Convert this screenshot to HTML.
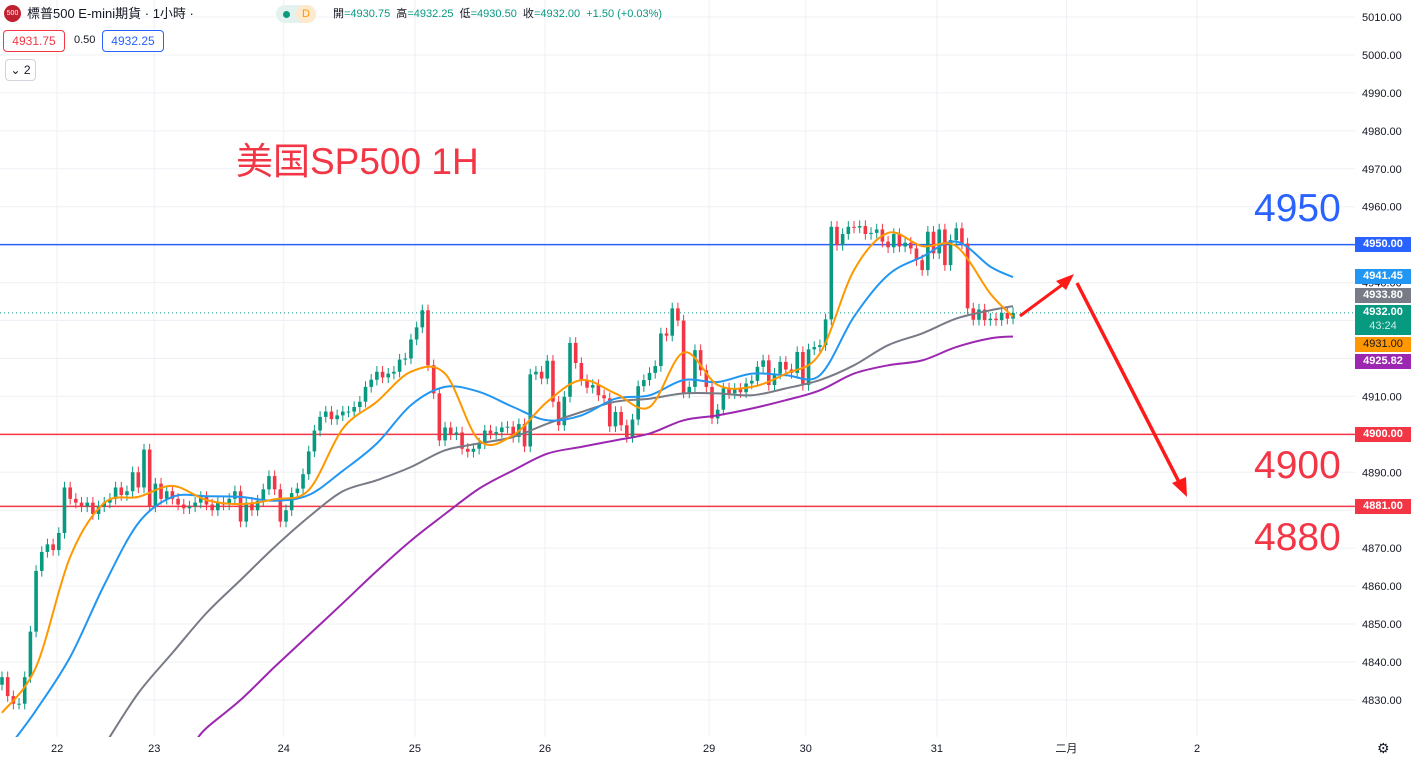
<!DOCTYPE html>
<html><head><meta charset="utf-8">
<style>
html,body{margin:0;padding:0;overflow:hidden;width:1411px;height:761px;}
body{background:#fff;font-family:"Liberation Sans","Noto Sans CJK TC",sans-serif;}
#wrap{position:relative;width:1411px;height:761px;overflow:hidden;}
svg{position:absolute;left:0;top:0;}
.hdr{position:absolute;font-size:13px;color:#131722;white-space:nowrap;line-height:1.2;}
.box{position:absolute;font-size:12px;border:1px solid;border-radius:4px;text-align:center;line-height:20px;background:#fff;}
.badge{position:absolute;left:1355px;width:56px;height:15px;font-size:11px;font-weight:bold;color:#fff;line-height:15px;text-align:center;}
</style></head><body>
<div id="wrap">
<svg id="chart" width="1411" height="761"></svg>

<div class="hdr" style="left:4px;top:5px;width:17px;height:17px;border-radius:50%;background:#c0202f;color:#fff;font-size:7px;line-height:17px;text-align:center;">500</div>
<div class="hdr" style="left:27px;top:6px;">標普500 E-mini期貨 · 1小時 ·</div>
<div class="hdr" style="left:276px;top:5px;width:40px;height:18px;border-radius:9px;background:#e3f2ef;">
 <span style="position:absolute;left:7px;top:6px;width:7px;height:7px;border-radius:50%;background:#089981"></span>
 <span style="position:absolute;left:20px;top:0;width:20px;height:18px;border-radius:9px;background:#ffe9cc;color:#ff9800;font-size:11px;line-height:18px;text-align:center;">D</span>
</div>
<div class="hdr" style="left:333px;top:8px;font-size:11px;">開<span style="color:#089981">=4930.75</span>&nbsp; 高<span style="color:#089981">=4932.25</span>&nbsp; 低<span style="color:#089981">=4930.50</span>&nbsp; 收<span style="color:#089981">=4932.00&nbsp; +1.50 (+0.03%)</span></div>
<div class="box" style="left:3px;top:30px;width:60px;height:20px;border-color:#f23645;color:#f23645;">4931.75</div>
<div class="hdr" style="left:74px;top:34px;font-size:11px;">0.50</div>
<div class="box" style="left:102px;top:30px;width:60px;height:20px;border-color:#2962ff;color:#2962ff;">4932.25</div>
<div class="box" style="left:5px;top:59px;width:29px;height:20px;border-color:#d1d4dc;color:#131722;font-size:12px;">⌄ 2</div>

<div class="hdr" style="left:236px;top:140px;font-size:37px;color:#f23645;">美国SP500 1H</div>
<div class="hdr" style="left:1254px;top:186px;font-size:39px;color:#2962ff;">4950</div>
<div class="hdr" style="left:1254px;top:443px;font-size:39px;color:#f23645;">4900</div>
<div class="hdr" style="left:1254px;top:515px;font-size:39px;color:#f23645;">4880</div>

<div class="badge" style="top:237px;background:#2962ff;">4950.00</div>
<div class="badge" style="top:269px;background:#2196f3;">4941.45</div>
<div class="badge" style="top:288px;background:#787b86;">4933.80</div>
<div class="badge" style="top:305px;height:30px;background:#089981;line-height:14px;">4932.00<br><span style="font-weight:normal;color:#cdeee6">43:24</span></div>
<div class="badge" style="top:337px;background:#ff9800;color:#131722;font-weight:normal;">4931.00</div>
<div class="badge" style="top:354px;background:#9c27b0;">4925.82</div>
<div class="badge" style="top:427px;background:#f23645;">4900.00</div>
<div class="badge" style="top:499px;background:#f23645;">4881.00</div>
<div class="hdr" style="left:1377px;top:740px;font-size:14px;line-height:16px;color:#131722;">⚙</div>
</div>
<script>
const closes=[4836,4831,4829,4829,4836,4848,4864,4869,4871,4869.5,
4874,4886,4883,4882,4881,4882,4879,4881,4882,4883,
4886,4884,4885,4890,4886,4896,4881,4887,4883,4885,
4883,4881.5,4880.5,4881,4882,4883.5,4881.5,4880,4882,4881.5,
4883,4885,4877,4882,4880,4882.5,4885.5,4889,4885.5,4877,
4880,4884.5,4885.7,4889.5,4895.5,4901,4904.6,4906,4904,4905,
4906,4906,4907.2,4908.6,4912.5,4914.4,4916.5,4915,4916,4916.5,
4919.7,4920,4925,4928.2,4932.7,4918.2,4910.8,4898.4,4901.8,4900,
4900.5,4896.2,4895.4,4896.2,4897.6,4901,4900.2,4900.6,4901.8,4902,
4899.3,4902.7,4896.8,4915.8,4916.5,4914.7,4919.4,4908.6,4902.4,4909.9,
4924.1,4918.8,4914.3,4912.3,4913,4910.3,4909.5,4902.1,4905.9,4902.4,
4899.3,4903.9,4912.7,4914.3,4916.2,4918,4926.6,4926,4933.2,4930,
4911,4912.5,4922.2,4916.9,4912.5,4904.2,4906.5,4912.1,4910.8,4912,
4911.1,4913.4,4914.1,4917.8,4919.5,4913,4916,4919.1,4917.1,4916.2,
4921.7,4913,4922.4,4923,4923.5,4930.3,4954.7,4949.9,4952.8,4954.7,
4954.5,4954.9,4952.8,4953.1,4954,4950.8,4949.3,4952.8,4949.5,4950.5,
4949,4945.9,4943.3,4953.4,4947.7,4954,4944.6,4951.2,4954.3,4950.3,
4933.2,4930.2,4932.9,4930.1,4930.5,4930.1,4932,4930.5,4932];
const maIndex=[0,6,12,18,24,30,36,42,48,54,60,66,72,78,84,90,96,102,108,114,120,126,132,138,144,150,156,162,168,174,178];
const maOrange=[4826.6,4838.7,4867.7,4881.9,4883.5,4886.4,4882.7,4881.6,4882.9,4885.3,4901.5,4908.6,4916.5,4916,4898.4,4899.8,4908.6,4914.3,4910.8,4907.2,4921.6,4913,4912.5,4916,4921.3,4943.3,4953.1,4949.6,4949.6,4937.1,4931];
const maBlue=[4815,4827.3,4841.3,4860.3,4876.6,4883.5,4883.7,4883.5,4882.5,4884,4890.4,4897.6,4907.7,4912.5,4911.2,4907.2,4903.7,4905,4909.4,4910.3,4914.3,4913.8,4916,4915.6,4915.6,4931,4942,4946.8,4950.8,4944.2,4941.45];
const maGray=[4770,4785,4800,4818,4831.8,4842.4,4852.9,4861.6,4870.3,4878.2,4885,4887.9,4891.4,4895.8,4897.6,4899.3,4902.8,4905.9,4908.6,4909.4,4910.8,4910.8,4910.3,4912.1,4914.3,4918.2,4923.5,4926.6,4930.5,4932.7,4933.8];
const maPurple=[4750,4762,4775,4788,4800,4812,4822.6,4830,4838.7,4847.1,4855.5,4864,4872,4879,4885.7,4890.5,4894.9,4896.7,4898.4,4900.2,4903.7,4905,4906.8,4909,4911.6,4916,4918.2,4919.5,4923,4925.3,4925.8];
const priceTicks=[5010,5000,4990,4980,4970,4960,4950,4940,4930,4920,4910,4900,4890,4880,4870,4860,4850,4840,4830];
const dayLabels=["22","23","24","25","26","29","30","31","二月","2"];
const dayIndex=[9.7,26.8,49.6,72.7,95.6,124.5,141.5,164.6,187.4,210.4];
const levels=[4950,4900,4881];
const lastPrice=4932;

const NS="http://www.w3.org/2000/svg";
const svg=document.getElementById('chart');
const X=i=>2+i*5.68;
const Y=p=>17+(5010-p)*3.794;
const PLOT_BOTTOM=740;
function mk(tag,attrs,parent){const e=document.createElementNS(NS,tag);for(const k in attrs)e.setAttribute(k,attrs[k]);(parent||svg).appendChild(e);return e;}
const defs=mk('defs',{});
const cp=mk('clipPath',{id:'plot'},defs);mk('rect',{x:0,y:0,width:1355,height:737},cp);

const grid=mk('g',{});


priceTicks.forEach(p=>{mk('line',{x1:0,x2:1355,y1:Y(p),y2:Y(p),stroke:'#eef0f5','stroke-width':1},grid);});
dayIndex.forEach(i=>{mk('line',{x1:X(i),x2:X(i),y1:0,y2:737,stroke:'#eef0f5','stroke-width':1},grid);});

const yAxis=mk('g',{});


priceTicks.forEach(p=>{const t=mk('text',{x:1362,y:Y(p)+4,'font-size':11,fill:'#131722','font-family':'Liberation Sans, sans-serif'},yAxis);t.textContent=p.toFixed(2);

});

const xAxis=mk('g',{});


dayLabels.forEach((d,k)=>{const t=mk('text',{x:X(dayIndex[k]),y:752,'font-size':11,fill:'#131722','text-anchor':'middle','font-family':'Liberation Sans, Noto Sans CJK TC, sans-serif'},xAxis);t.textContent=d;

});

const plot=mk('g',{'clip-path':'url(#plot)'});



levels.forEach((lv,k)=>{const l=mk('line',{x1:0,x2:1355,y1:Y(lv),y2:Y(lv),stroke:k===0?'#2962ff':'#f23645','stroke-width':1.5},plot);

});
const ll=mk('line',{x1:0,x2:1355,y1:Y(lastPrice),y2:Y(lastPrice),stroke:'#089981','stroke-width':1,'stroke-dasharray':'1 3'},plot);



const cg=mk('g',{},plot);


closes.forEach((c,i)=>{
  const o=i===0?c-2:closes[i-1];
  const up=c>=o;const col=up?'#089981':'#f23645';
  const hi=Math.max(o,c)+1.5, lo=Math.min(o,c)-1.5;
  const g=mk('g',{},cg);
  
  
  mk('line',{x1:X(i),x2:X(i),y1:Y(hi),y2:Y(Math.max(lo,4826)),stroke:col,'stroke-width':1},g);
  const top=Y(Math.max(o,c)),h=Math.max(1,Y(Math.min(o,c))-top);
  mk('rect',{x:X(i)-1.8,y:top,width:3.6,height:h,fill:col},g);
});

function maLine(arr,color,name){
  let P=arr.map((v,k)=>[X(maIndex[k]),Y(v)]);
  // keep only visible part; cut the entering segment at the plot bottom
  let first=P.findIndex(p=>p[1]<=PLOT_BOTTOM);
  if(first>0){
    const a=P[first-1],b=P[first];
    const t=(a[1]-PLOT_BOTTOM)/(a[1]-b[1]);
    const entry=[a[0]+(b[0]-a[0])*t,PLOT_BOTTOM];
    P=[entry].concat(P.slice(first));
  }
  let d='M'+P[0][0].toFixed(1)+','+P[0][1].toFixed(1);
  for(let k=0;k<P.length-1;k++){
    const p0=P[Math.max(0,k-1)],p1=P[k],p2=P[k+1],p3=P[Math.min(P.length-1,k+2)];
    const c1=[p1[0]+(p2[0]-p0[0])/6,Math.min(PLOT_BOTTOM,p1[1]+(p2[1]-p0[1])/6)];
    const c2=[p2[0]-(p3[0]-p1[0])/6,Math.min(PLOT_BOTTOM,p2[1]-(p3[1]-p1[1])/6)];
    d+=' C'+c1[0].toFixed(1)+','+c1[1].toFixed(1)+' '+c2[0].toFixed(1)+','+c2[1].toFixed(1)+' '+p2[0].toFixed(1)+','+p2[1].toFixed(1);
  }
  const pl=mk('path',{d:d,fill:'none',stroke:color,'stroke-width':2,'stroke-linejoin':'round'},plot);
  
  
}
maLine(maPurple,'#9c27b0','ma-purple');
maLine(maGray,'#787b86','ma-gray');
maLine(maBlue,'#2196f3','ma-blue');
maLine(maOrange,'#ff9800','ma-orange');

const ar=mk('g',{});


mk('line',{x1:1020,y1:316,x2:1066,y2:282,stroke:'#ff1a1a','stroke-width':3},ar);
mk('polygon',{points:'1074,274 1056,281 1066,290',fill:'#ff1a1a'},ar);
mk('line',{x1:1077,y1:283,x2:1180,y2:484,stroke:'#ff1a1a','stroke-width':3.5},ar);
mk('polygon',{points:'1187,497 1172,483 1186,477',fill:'#ff1a1a'},ar);
</script>
</body></html>
